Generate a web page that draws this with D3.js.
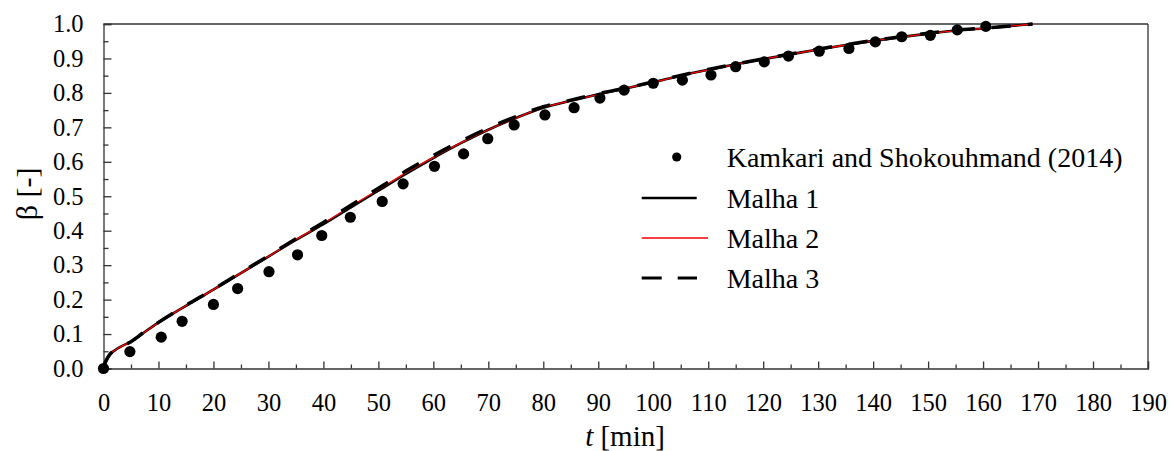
<!DOCTYPE html>
<html>
<head>
<meta charset="utf-8">
<script src="https://cdn.jsdelivr.net/npm/d3@7"></script>
<style>
  html, body { margin: 0; padding: 0; background: #fff; }
  svg text { font-family: "Liberation Serif", "Times New Roman", Times, Tinos, "DejaVu Serif", serif !important; }
</style>
</head>
<body>
<svg id="chart" width="1171" height="451"></svg>
<script>
// ---- data ----
const xTicks = [0,10,20,30,40,50,60,70,80,90,100,110,120,130,140,150,160,170,180,190];
const yTicks = [0.0,0.1,0.2,0.3,0.4,0.5,0.6,0.7,0.8,0.9,1.0];

const kamkariT = [0, 4.8, 10.5, 14.3, 20.0, 24.4, 30.1, 35.3, 39.7, 44.9, 50.7, 54.5, 60.2, 65.5, 69.9, 74.7, 80.3, 85.6, 90.3, 94.7, 100.0, 105.3, 110.5, 115.0, 120.2, 124.6, 130.2, 135.6, 140.4, 145.2, 150.4, 155.3, 160.5];
const kamkariB = [0, 0.049, 0.091, 0.137, 0.186, 0.232, 0.281, 0.330, 0.386, 0.439, 0.485, 0.536, 0.587, 0.623, 0.667, 0.707, 0.736, 0.757, 0.785, 0.808, 0.828, 0.837, 0.852, 0.876, 0.890, 0.907, 0.921, 0.929, 0.948, 0.963, 0.967, 0.983, 0.993];

const simT   = [0, 0.3, 0.7, 1.2, 2, 3, 5, 7.5, 10, 15, 20, 25, 30, 35, 40, 45, 50, 55, 60, 65, 70, 75, 80, 85, 90, 95, 100, 105, 110, 115, 120, 125, 130, 135, 140, 145, 150, 155, 160, 165, 169];
const malha1 = [0, 0.016, 0.030, 0.042, 0.052, 0.062, 0.078, 0.106, 0.133, 0.182, 0.229, 0.277, 0.325, 0.373, 0.419, 0.468, 0.516, 0.565, 0.611, 0.654, 0.693, 0.727, 0.757, 0.777, 0.796, 0.813, 0.831, 0.850, 0.867, 0.883, 0.898, 0.912, 0.926, 0.939, 0.951, 0.962, 0.972, 0.981, 0.987, 0.994, 1.0];
const malha2 = [0, 0.016, 0.030, 0.042, 0.052, 0.062, 0.078, 0.106, 0.133, 0.182, 0.229, 0.277, 0.325, 0.374, 0.421, 0.471, 0.519, 0.568, 0.613, 0.655, 0.693, 0.727, 0.757, 0.777, 0.796, 0.813, 0.831, 0.850, 0.867, 0.883, 0.898, 0.912, 0.926, 0.939, 0.951, 0.962, 0.972, 0.981, 0.987, 0.994, 1.0];
const malha3 = [0, 0.016, 0.030, 0.042, 0.052, 0.062, 0.078, 0.107, 0.134, 0.183, 0.230, 0.279, 0.327, 0.377, 0.424, 0.474, 0.523, 0.573, 0.618, 0.660, 0.698, 0.731, 0.760, 0.779, 0.798, 0.814, 0.832, 0.851, 0.868, 0.884, 0.899, 0.913, 0.927, 0.940, 0.952, 0.963, 0.973, 0.982, 0.988, 0.994, 1.0];

const legendLabels = ["Kamkari and Shokouhmand (2014)", "Malha 1", "Malha 2", "Malha 3"];

// ---- layout ----
const FONT = '"Liberation Serif", "Times New Roman", Times, Tinos, "DejaVu Serif", serif';
const svg = d3.select("#chart");
const L = 103.5, R = 1148, T = 24, B = 368.5;
const x = d3.scaleLinear().domain([0, 190]).range([L, R]);
const y = d3.scaleLinear().domain([0, 1]).range([B, T]);
const axisColor = "#333";

// frame (top & right)
svg.append("line").attr("x1", L).attr("x2", R).attr("y1", T).attr("y2", T)
  .attr("stroke", axisColor).attr("stroke-width", 1.3);
svg.append("line").attr("x1", R).attr("x2", R).attr("y1", T).attr("y2", B)
  .attr("stroke", axisColor).attr("stroke-width", 1.3);

// minor ticks
const xMinor = d3.range(5, 190, 10);
const yMinor = d3.range(0.05, 1.0, 0.1);
svg.append("g").attr("transform", `translate(0,${B})`)
  .call(d3.axisBottom(x).tickValues(xMinor).tickSize(-4).tickFormat(""))
  .call(g => g.select(".domain").remove())
  .call(g => g.selectAll("line").attr("stroke", axisColor).attr("stroke-width", 1.3));
svg.append("g").attr("transform", `translate(${L},0)`)
  .call(d3.axisLeft(y).tickValues(yMinor).tickSize(-5).tickFormat(""))
  .call(g => g.select(".domain").remove())
  .call(g => g.selectAll("line").attr("stroke", axisColor).attr("stroke-width", 1.3));

// major axes
const gx = svg.append("g").attr("transform", `translate(0,${B})`)
  .call(d3.axisBottom(x).tickValues(xTicks).tickSize(-7).tickPadding(25).tickFormat(d3.format("d")));
gx.attr("font-family", null);
gx.select(".domain").attr("stroke", axisColor).attr("stroke-width", 1.3);
gx.selectAll("line").attr("stroke", axisColor).attr("stroke-width", 1.3);
gx.selectAll("text").attr("font-size", 24.5).attr("fill", "#000")
  .style("font-family", FONT).attr("dy", "0.71em");

const gy = svg.append("g").attr("transform", `translate(${L},0)`)
  .call(d3.axisLeft(y).tickValues(yTicks).tickSize(-8).tickPadding(20).tickFormat(d3.format(".1f")));
gy.attr("font-family", null);
gy.select(".domain").attr("stroke", axisColor).attr("stroke-width", 1.3);
gy.selectAll("line").attr("stroke", axisColor).attr("stroke-width", 1.3);
gy.selectAll("text").attr("font-size", 24.5).attr("fill", "#000").style("font-family", FONT);

// axis titles
const xt = svg.append("text").attr("x", 625).attr("y", 446).attr("text-anchor", "middle")
  .attr("font-size", 29).attr("fill", "#000").style("font-family", FONT);
xt.append("tspan").attr("font-style", "italic").text("t");
xt.append("tspan").text(" [min]");

svg.append("text").attr("transform", `translate(37,194) rotate(-90)`).attr("text-anchor", "middle")
  .attr("font-size", 30).attr("fill", "#000").style("font-family", FONT).text("β [-]");

// series
const line = d3.line().x(d => x(d[0])).y(d => y(d[1])).curve(d3.curveMonotoneX);
const s1 = simT.map((t, i) => [t, malha1[i]]);
const s2 = simT.map((t, i) => [t, malha2[i]]);
const s3 = simT.map((t, i) => [t, malha3[i]]);

const plot = svg.append("g");
plot.append("path").datum(s1).attr("d", line).attr("fill", "none")
  .attr("stroke", "#000").attr("stroke-width", 2.6);
plot.append("path").datum(s2).attr("d", line).attr("fill", "none")
  .attr("stroke", "#ff0000").attr("stroke-width", 1.3);
plot.append("path").datum(s3).attr("d", line).attr("fill", "none")
  .attr("stroke", "#000").attr("stroke-width", 3.5).attr("stroke-dasharray", "19,17");

plot.selectAll("circle.exp").data(kamkariT.map((t, i) => [t, kamkariB[i]]))
  .join("circle").attr("class", "exp")
  .attr("cx", d => x(d[0])).attr("cy", d => y(d[1])).attr("r", 5.6).attr("fill", "#000");

// legend
const lg = svg.append("g");
const lx0 = 641.7, textX = 726.7, rows = [157, 198, 238, 278];
lg.append("circle").attr("cx", 676.7).attr("cy", rows[0]).attr("r", 4.6).attr("fill", "#000");
lg.append("line").attr("x1", lx0).attr("x2", 696.7).attr("y1", rows[1]).attr("y2", rows[1])
  .attr("stroke", "#000").attr("stroke-width", 2.6);
lg.append("line").attr("x1", lx0).attr("x2", 708).attr("y1", rows[2]).attr("y2", rows[2])
  .attr("stroke", "#ff0000").attr("stroke-width", 1.3);
lg.append("line").attr("x1", lx0).attr("x2", 697).attr("y1", rows[3]).attr("y2", rows[3])
  .attr("stroke", "#000").attr("stroke-width", 3).attr("stroke-dasharray", "20,16");
legendLabels.forEach((lab, i) => {
  lg.append("text").attr("x", textX).attr("y", rows[i]).attr("dy", "0.35em")
    .attr("font-size", 28).attr("fill", "#000").style("font-family", FONT).text(lab);
});
</script>
</body>
</html>
